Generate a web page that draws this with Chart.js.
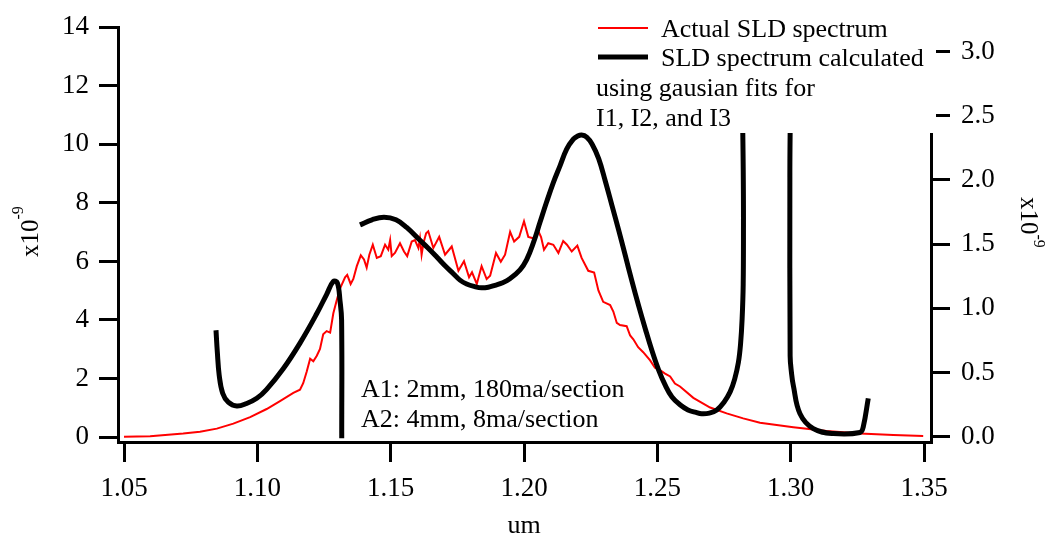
<!DOCTYPE html>
<html>
<head>
<meta charset="utf-8">
<script src="https://cdn.jsdelivr.net/npm/chart.js@4"></script>
<style>
  html, body { margin: 0; padding: 0; background: #fff; }
  #wrap { width: 1059px; height: 541px; }
</style>
</head>
<body>
<div id="wrap"><canvas id="myChart" width="1059" height="541"></canvas></div>
<script>
// wavelength (um) and measured SLD spectrum (x10^-9, left axis)
const actualX = [
  1.0500, 1.0598, 1.0722, 1.0785, 1.0848, 1.0910, 1.0973, 1.1035, 1.1085, 1.1135,
  1.1160, 1.1172, 1.1185, 1.1198, 1.1210, 1.1223, 1.1235, 1.1247, 1.1260, 1.1273,
  1.1285, 1.1298, 1.1310, 1.1329, 1.1337, 1.1350, 1.1360, 1.1373, 1.1388, 1.1400,
  1.1410, 1.1420, 1.1433, 1.1448, 1.1463, 1.1479, 1.1491, 1.1498, 1.1504, 1.1516,
  1.1535, 1.1550, 1.1562, 1.1579, 1.1591, 1.1604, 1.1610, 1.1616, 1.1623, 1.1633,
  1.1641, 1.1660, 1.1682, 1.1704, 1.1729, 1.1754, 1.1775, 1.1794, 1.1805, 1.1823,
  1.1841, 1.1860, 1.1873, 1.1895, 1.1913, 1.1929, 1.1948, 1.1963, 1.1982, 1.2000,
  1.2016, 1.2035, 1.2054, 1.2064, 1.2075, 1.2091, 1.2110, 1.2129, 1.2147, 1.2161,
  1.2179, 1.2200, 1.2216, 1.2241, 1.2263, 1.2279, 1.2297, 1.2323, 1.2335, 1.2348,
  1.2360, 1.2385, 1.2398, 1.2410, 1.2428, 1.2447, 1.2473, 1.2491, 1.2510, 1.2529,
  1.2548, 1.2566, 1.2585, 1.2635, 1.2698, 1.2760, 1.2822, 1.2885, 1.3010, 1.3135,
  1.3260, 1.3385, 1.3497
];
const actualY = [
  0.01, 0.03, 0.12, 0.18, 0.29, 0.46, 0.68, 0.96, 1.23, 1.51,
  1.62, 1.84, 2.23, 2.68, 2.59, 2.78, 3.01, 3.51, 3.62, 3.57,
  4.23, 4.68, 5.07, 5.46, 5.54, 5.23, 5.40, 5.84, 6.21, 6.07,
  5.79, 6.23, 6.57, 6.12, 6.18, 6.57, 6.40, 6.73, 6.18, 6.29,
  6.62, 6.34, 6.18, 6.68, 6.73, 6.46, 6.79, 6.23, 6.63, 6.96,
  7.03, 6.46, 6.84, 6.23, 6.51, 5.68, 6.01, 5.46, 5.63, 5.23,
  5.84, 5.40, 5.51, 6.29, 5.99, 6.23, 7.01, 6.68, 6.84, 7.37,
  6.84, 6.79, 7.03, 6.83, 6.40, 6.62, 6.57, 6.29, 6.70, 6.57,
  6.34, 6.54, 6.12, 5.68, 5.62, 5.01, 4.62, 4.51, 4.29, 3.90,
  3.83, 3.79, 3.47, 3.34, 3.07, 2.90, 2.62, 2.37, 2.29, 2.17,
  2.07, 1.83, 1.73, 1.34, 1.01, 0.81, 0.64, 0.49, 0.34, 0.21,
  0.12, 0.07, 0.04
];

// spectrum calculated from gaussian fits (x10^-9, right axis); null = break in the line
const calcX = [
  1.0845, 1.0850, 1.0857, 1.0870, 1.0891, 1.0923, 1.0960, 1.0998, 1.1035, 1.1097,
  1.1160, 1.1223, 1.1260, 1.1285, 1.1300, 1.1310, 1.1316, 1.13165,
  1.1350,
  1.1385, 1.1430, 1.1475, 1.1520, 1.1560, 1.1610, 1.1640, 1.1673, 1.1705, 1.1735,
  1.1760, 1.1785, 1.1815, 1.1841, 1.1866, 1.1891, 1.1920, 1.1947, 1.1985, 1.2010,
  1.2035, 1.2060, 1.2085, 1.2110, 1.2135, 1.2160, 1.2185, 1.2200, 1.2216, 1.2235,
  1.2255, 1.2280, 1.2305, 1.2330, 1.2355, 1.2380, 1.2405, 1.2430, 1.2455, 1.2480,
  1.2505, 1.2530, 1.2555, 1.2585, 1.2615, 1.2645, 1.2666, 1.2695, 1.2723, 1.2750,
  1.2773, 1.2790, 1.2804, 1.2812, 1.2818, 1.2822, 1.2823, 1.2825, 1.2910, 1.2996,
  1.2997, 1.2998, 1.3003, 1.3010, 1.3035, 1.3085, 1.3160, 1.3260, 1.3272, 1.3291
];
const calcY = [
  0.83, 0.66, 0.48, 0.34, 0.27, 0.24, 0.26, 0.30, 0.37, 0.53,
  0.73, 0.96, 1.11, 1.21, 1.20, 1.06, 0.91, -0.01,
  null,
  1.65, 1.69, 1.71, 1.69, 1.63, 1.53, 1.47, 1.40, 1.33, 1.27,
  1.22, 1.19, 1.17, 1.16, 1.165, 1.18, 1.20, 1.23, 1.30, 1.38,
  1.51, 1.67, 1.83, 1.98, 2.11, 2.24, 2.317, 2.34, 2.35, 2.334,
  2.28, 2.166, 1.99, 1.80, 1.61, 1.41, 1.21, 1.02, 0.84, 0.67,
  0.52, 0.40, 0.31, 0.25, 0.21, 0.19, 0.18, 0.185, 0.21, 0.27,
  0.35, 0.45, 0.58, 0.72, 0.92, 1.19, 1.65, 4.0, 6.0, 4.0,
  2.0, 0.63, 0.50, 0.40, 0.18, 0.064, 0.026, 0.034, 0.076, 0.30
];

const xTicks = [1.05, 1.10, 1.15, 1.20, 1.25, 1.30, 1.35];
const leftTicks = [0, 2, 4, 6, 8, 10, 12, 14];
const rightTicks = [0, 0.5, 1.0, 1.5, 2.0, 2.5, 3.0];

const legendLabels = ['Actual SLD spectrum', 'SLD spectrum calculated', 'using gausian fits for', 'I1, I2, and I3'];
const noteLines = ['A1: 2mm, 180ma/section', 'A2: 4mm, 8ma/section'];

const serif = '"Liberation Serif", "Times New Roman", serif';
Chart.defaults.font.family = serif;
Chart.defaults.font.size = 27;
Chart.defaults.color = '#000';

const axisLook = {
  grid: { display: true, drawOnChartArea: false, drawTicks: true, tickLength: 19, lineWidth: 3, color: '#000' },
  border: { display: true, color: '#000', width: 3 }
};

const overlay = {
  id: 'overlay',
  afterDraw(chart) {
    const ctx = chart.ctx;
    ctx.save();
    // legend box hides whatever sits under it
    ctx.fillStyle = '#fff';
    ctx.fillRect(594, 0, 342, 133);

    ctx.lineCap = 'butt';
    ctx.strokeStyle = '#ff0000';
    ctx.lineWidth = 2;
    ctx.beginPath(); ctx.moveTo(598, 28); ctx.lineTo(648, 28); ctx.stroke();
    ctx.strokeStyle = '#000';
    ctx.lineWidth = 5;
    ctx.beginPath(); ctx.moveTo(598, 57); ctx.lineTo(648, 57); ctx.stroke();

    ctx.fillStyle = '#000';
    ctx.font = '26px ' + serif;
    ctx.textBaseline = 'alphabetic';
    ctx.textAlign = 'left';
    ctx.fillText(legendLabels[0], 661, 37);
    ctx.fillText(legendLabels[1], 661, 66);
    ctx.fillText(legendLabels[2], 596, 96);
    ctx.fillText(legendLabels[3], 596, 126);

    // note
    ctx.fillText(noteLines[0], 361, 397);
    ctx.fillText(noteLines[1], 361, 427);

    // x title
    ctx.textAlign = 'center';
    ctx.fillText('um', 524, 533);

    // y titles with superscript
    ctx.textAlign = 'left';
    ctx.save();
    ctx.translate(38, 257);
    ctx.rotate(-Math.PI / 2);
    ctx.font = '25px ' + serif;
    let w = ctx.measureText('x10').width;
    ctx.fillText('x10', 0, 0);
    ctx.font = '16px ' + serif;
    ctx.fillText('-9', w, -15);
    ctx.restore();

    ctx.save();
    ctx.translate(1021, 197);
    ctx.rotate(Math.PI / 2);
    ctx.font = '25px ' + serif;
    w = ctx.measureText('x10').width;
    ctx.fillText('x10', 0, 0);
    ctx.font = '16px ' + serif;
    ctx.fillText('-9', w, -13);
    ctx.restore();

    ctx.restore();
  }
};

const config = {
  type: 'line',
  data: {
    datasets: [
      {
        label: 'Actual SLD spectrum',
        data: actualX.map((x, i) => ({ x: x, y: actualY[i] })),
        borderColor: '#ff0000',
        borderWidth: 2,
        pointRadius: 0,
        tension: 0,
        yAxisID: 'y',
        order: 2
      },
      {
        label: 'SLD spectrum calculated using gausian fits for I1, I2, and I3',
        data: calcX.map((x, i) => ({ x: x, y: calcY[i] })),
        borderColor: '#000',
        borderWidth: 5,
        pointRadius: 0,
        tension: 0.4,
        spanGaps: false,
        yAxisID: 'y2',
        order: 1
      }
    ]
  },
  options: {
    responsive: false,
    animation: false,
    devicePixelRatio: 1,
    layout: { padding: { top: 17, left: 0, right: 0, bottom: 0 } },
    plugins: {
      legend: { display: false },
      tooltip: { enabled: false }
    },
    scales: {
      x: {
        type: 'linear',
        position: 'bottom',
        min: 1.04775,
        max: 1.352625,
        ...axisLook,
        grid: { ...axisLook.grid, tickLength: 20 },
        ticks: { padding: 11, maxRotation: 0, callback: v => v.toFixed(2) },
        afterBuildTicks: s => { s.ticks = xTicks.map(v => ({ value: v })); },
        afterFit: s => { s.height = 99; }
      },
      y: {
        type: 'linear',
        position: 'left',
        min: -0.167,
        max: 14,
        ...axisLook,
        ticks: { padding: 10, callback: v => String(v) },
        afterBuildTicks: s => { s.ticks = leftTicks.map(v => ({ value: v })); },
        afterFit: s => { s.width = 118; }
      },
      y2: {
        type: 'linear',
        position: 'right',
        min: -0.040,
        max: 3.189,
        ...axisLook,
        ticks: { padding: 11, callback: v => v.toFixed(1) },
        afterBuildTicks: s => { s.ticks = rightTicks.map(v => ({ value: v })); },
        afterFit: s => { s.width = 128; }
      }
    }
  },
  plugins: [overlay]
};

const myChart = new Chart(document.getElementById('myChart'), config);
</script>
</body>
</html>
